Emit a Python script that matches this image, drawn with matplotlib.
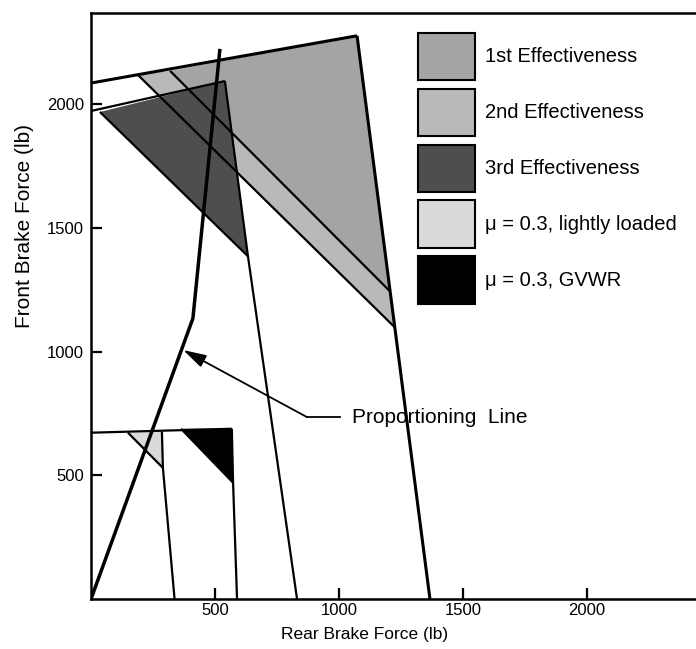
import matplotlib
matplotlib.use("Agg")
import matplotlib.pyplot as plt
from matplotlib.patches import Patch, Polygon

plt.rcParams['font.family'] = ['Liberation Sans', 'DejaVu Sans']

# ---- data (lb) ----
first_eff_rear = [319, 1073, 1206]
first_eff_front = [2134, 2276, 1243]
second_eff_rear = [189, 319, 1206, 1226]
second_eff_front = [2118, 2134, 1243, 1097]
third_eff_rear = [36, 540, 633]
third_eff_front = [1968, 2093, 1385]
light_rear = [149, 286, 290]
light_front = [672, 676, 530]
gvwr_rear = [363, 568, 573]
gvwr_front = [688, 688, 470]

# boundary lines
top_line_rear = [0, 1073]
top_line_front = [2085, 2276]
right_line_rear = [1073, 1367]
right_line_front = [2276, 0]
diag1_rear = [189, 1226]
diag1_front = [2118, 1097]
diag2_rear = [319, 1206]
diag2_front = [2134, 1243]
third_top_rear = [0, 540]
third_top_front = [1972, 2093]
third_hyp_rear = [36, 633]
third_hyp_front = [1968, 1385]
third_side_rear = [540, 633, 831]
third_side_front = [2093, 1385, 0]
low_top_rear = [0, 568]
low_top_front = [672, 688]
light_side_rear = [286, 290, 337]
light_side_front = [676, 530, 0]
light_hyp_rear = [149, 290]
light_hyp_front = [672, 530]
gvwr_side_rear = [568, 573, 589]
gvwr_side_front = [688, 470, 0]
gvwr_hyp_rear = [363, 573]
gvwr_hyp_front = [688, 470]
prop_rear = [0, 411, 520]
prop_front = [0, 1134, 2223]

x_ticks = [500, 1000, 1500, 2000]
y_ticks = [500, 1000, 1500, 2000]

legend_labels = ['1st Effectiveness', '2nd Effectiveness', '3rd Effectiveness',
                 '\u03bc = 0.3, lightly loaded', '\u03bc = 0.3, GVWR']
c_first = '#a4a4a4'
c_second = '#b9b9b9'
c_third = '#4e4e4e'
c_light = '#dadada'
c_gvwr = '#000000'

fig = plt.figure(figsize=(6.96, 6.49), dpi=100)
ax = fig.add_axes([91/696, 50/649, 1 - 91/696, (599-13)/649])
ax.set_xlim(0, 2440)
ax.set_ylim(0, 2368)

def fill(xs, ys, c):
    ax.add_patch(Polygon(list(zip(xs, ys)), closed=True, facecolor=c,
                         edgecolor='none', zorder=1))

fill(second_eff_rear, second_eff_front, c_second)
fill(first_eff_rear, first_eff_front, c_first)
fill(third_eff_rear, third_eff_front, c_third)
fill(light_rear, light_front, c_light)
fill(gvwr_rear, gvwr_front, c_gvwr)

thick = 2.2
thin = 1.6
for xs, ys, lw in [
    (top_line_rear, top_line_front, thick),
    (right_line_rear, right_line_front, thick),
    (diag1_rear, diag1_front, thin),
    (diag2_rear, diag2_front, thin),
    (third_top_rear, third_top_front, thin),
    (third_hyp_rear, third_hyp_front, thin),
    (third_side_rear, third_side_front, thin),
    (low_top_rear, low_top_front, thin),
    (light_side_rear, light_side_front, thin),
    (light_hyp_rear, light_hyp_front, thin),
    (gvwr_side_rear, gvwr_side_front, thin),
    (gvwr_hyp_rear, gvwr_hyp_front, thin),
    (prop_rear, prop_front, 2.5),
]:
    ax.plot(xs, ys, color='black', lw=lw, solid_capstyle='butt', zorder=3)

# annotation: Proportioning Line
ax.plot([1004, 871], [735, 735], color='black', lw=1.3, zorder=3)
ax.annotate('', xy=(372, 1006), xytext=(871, 735),
            arrowprops=dict(arrowstyle='-|>,head_length=1.4,head_width=0.4',
                            color='black', lw=1.3, shrinkA=0, shrinkB=0),
            zorder=4)
ax.text(1052, 735, 'Proportioning  Line', fontsize=15, va='center', ha='left')

# axes styling
for s in ['left', 'bottom', 'top']:
    ax.spines[s].set_linewidth(1.8)
ax.spines['right'].set_visible(False)
ax.set_xticks(x_ticks)
ax.set_yticks(y_ticks)
ax.set_xticklabels([str(v) for v in x_ticks])
ax.set_yticklabels([str(v) for v in y_ticks])
ax.tick_params(direction='in', length=8, width=1.6, labelsize=12, pad=5)
ax.tick_params(axis='x', pad=3)
ax.set_xlabel('Rear Brake Force (lb)', fontsize=12.5)
ax.xaxis.set_label_coords((365-91)/605, -0.048)
ax.set_ylabel('Front Brake Force (lb)', fontsize=15)
ax.yaxis.set_label_coords(-0.094, (599-226)/586)

handles = [Patch(facecolor=c, edgecolor='black', lw=1.5)
           for c in [c_first, c_second, c_third, c_light, c_gvwr]]
ax.legend(handles, legend_labels, loc='upper left',
          bbox_to_anchor=(418/696, 1 - 33/649), bbox_transform=fig.transFigure,
          frameon=False, fontsize=14.5, handlelength=2.83, handleheight=3.24,
          labelspacing=0.42, handletextpad=0.5, borderpad=0, borderaxespad=0)

fig.savefig('out.png', dpi=100)
